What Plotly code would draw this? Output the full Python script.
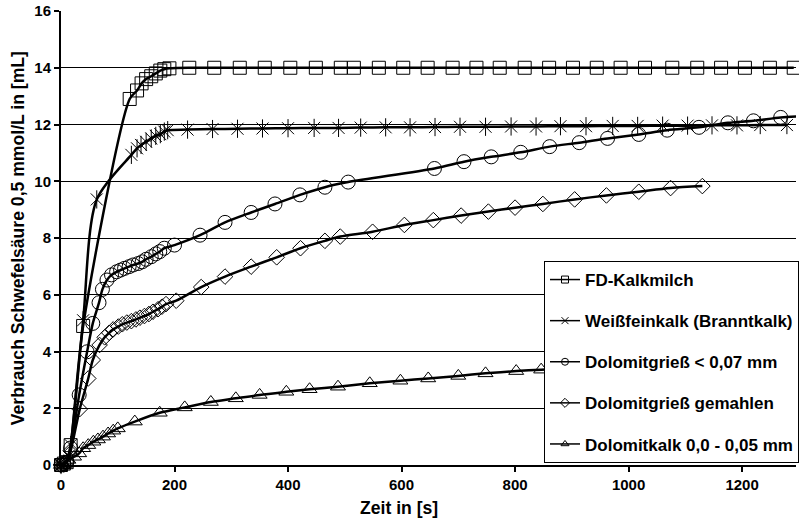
import plotly.graph_objects as go

# ---- data ----
fd_x = [0, 5, 10, 17, 39, 121, 134, 142, 150, 159, 167, 175, 182, 191,
        226, 270, 315, 359, 404, 449, 493, 516, 560, 603, 646, 690, 732,
        773, 817, 860, 902, 944, 986, 1029, 1077, 1121, 1163, 1205, 1249, 1291]
fd_y = [0, 0.05, 0.1, 0.7, 4.9, 12.9, 13.2, 13.45, 13.6, 13.7, 13.8, 13.9, 13.95, 13.98,
        14.0, 14.0, 14.0, 14.0, 14.0, 14.0, 14.0, 14.0, 14.0, 14.0, 14.0, 14.0, 14.0,
        14.0, 14.0, 14.0, 14.0, 14.0, 14.0, 14.0, 14.0, 14.0, 14.0, 14.0, 14.0, 14.0]

wf_x = [0, 5, 10, 17, 39, 63, 124, 134, 141, 150, 159, 167, 175, 182, 188,
        223, 267, 311, 355, 400, 446, 489, 528, 572, 615, 659, 703, 748,
        793, 837, 880, 925, 972, 1016, 1060, 1104, 1147, 1191, 1232, 1279]
wf_y = [0, 0.05, 0.1, 0.7, 5.1, 9.36, 10.93, 11.16, 11.28, 11.39, 11.51, 11.6, 11.66, 11.75, 11.8,
        11.82, 11.84, 11.85, 11.86, 11.87, 11.88, 11.88, 11.89, 11.9, 11.9, 11.91, 11.92, 11.92,
        11.93, 11.93, 11.94, 11.94, 11.95, 11.95, 11.96, 11.96, 11.97, 11.97, 11.98, 11.98]

dg_x = [0, 5, 10, 17, 32, 46, 56, 67, 73, 81, 89, 98, 105, 112, 120, 127, 136, 143, 150, 159,
        167, 174, 182, 200, 245, 289, 335, 377, 421, 465, 506, 658, 710, 758, 810, 861, 913,
        963, 1018, 1068, 1124, 1175, 1220, 1268, 1310]
dg_y = [0, 0.05, 0.1, 0.6, 2.47, 3.99, 4.99, 5.72, 6.19, 6.52, 6.7, 6.81, 6.87, 6.93, 6.99,
        7.05, 7.1, 7.16, 7.25, 7.34, 7.44, 7.52, 7.64, 7.75, 8.1, 8.55, 8.9, 9.2, 9.52, 9.79,
        9.97, 10.45, 10.69, 10.86, 11.02, 11.22, 11.36, 11.51, 11.65, 11.8, 11.9, 12.06, 12.13,
        12.25, 12.3]

gm_x = [0, 5, 10, 17, 33, 48, 56, 68, 77, 85, 92, 101, 108, 116, 124, 132, 139, 147, 155, 162,
        171, 178, 185, 203, 247, 289, 335, 380, 422, 465, 492, 549, 605, 656, 705, 753, 800,
        849, 905, 961, 1018, 1074, 1130]
gm_y = [0, 0.05, 0.1, 0.5, 1.97, 3.05, 3.7, 4.23, 4.5, 4.66, 4.78, 4.88, 4.96, 5.02, 5.07,
        5.13, 5.19, 5.25, 5.32, 5.4, 5.49, 5.58, 5.67, 5.79, 6.27, 6.64, 6.99, 7.32, 7.64, 7.9,
        8.05, 8.22, 8.46, 8.63, 8.79, 8.93, 9.07, 9.2, 9.36, 9.5, 9.63, 9.76, 9.83]

dk_x = [0, 4, 13, 23, 32, 39, 48, 57, 65, 74, 83, 92, 100, 130, 174, 218, 264, 308, 350, 397,
        438, 488, 544, 598, 647, 700, 748, 802, 846, 900]
dk_y = [0, 0.04, 0.18, 0.29, 0.41, 0.59, 0.7, 0.82, 0.9, 1.0, 1.11, 1.21, 1.29, 1.53, 1.84,
        2.03, 2.22, 2.35, 2.47, 2.58, 2.67, 2.76, 2.88, 2.97, 3.05, 3.14, 3.23, 3.31, 3.36, 3.42]

names = ["FD-Kalkmilch", "Weißfeinkalk (Branntkalk)", "Dolomitgrieß < 0,07 mm",
         "Dolomitgrieß gemahlen", "Dolomitkalk 0,0 - 0,05 mm"]
symbols = ["square-open", "x-thin-open", "circle-open", "diamond-open", "triangle-up-open"]
sizes = [13, 12, 14, 12, 13]
x_ticks = [0, 200, 400, 600, 800, 1000, 1200]
y_ticks = [0, 2, 4, 6, 8, 10, 12, 14, 16]

FONT = "Liberation Sans"
LW = 2.5

fig = go.Figure()

series = [(fd_x, fd_y), (wf_x, wf_y), (dg_x, dg_y), (gm_x, gm_y), (dk_x, dk_y)]
for i, (x, y) in enumerate(series):
    grp = f"g{i}"
    fig.add_trace(go.Scatter(
        x=x, y=y, name=names[i], mode="lines+markers", legendgroup=grp, showlegend=False,
        line=dict(color="black", width=LW, shape="spline", smoothing=0.8),
        marker=dict(symbol=symbols[i], size=sizes[i], color="black",
                    line=dict(color="black", width=1)),
        cliponaxis=False))
    if i == 1:
        fig.add_trace(go.Scatter(
            x=x, y=y, mode="markers", showlegend=False, legendgroup=grp,
            marker=dict(symbol="line-ns-open", size=13, color="black",
                        line=dict(color="black", width=1)), cliponaxis=False))

# legend-only entries with small symbols, as in the reference legend
for i in range(5):
    fig.add_trace(go.Scatter(
        x=[None], y=[None], name=names[i], mode="lines+markers", legendgroup=f"g{i}",
        line=dict(color="black", width=1.5),
        marker=dict(symbol=symbols[i], size=7, color="black",
                    line=dict(color="black", width=1))))

L, T, B = 61, 11, 61
W, H = 799, 526
pw = W - L
ph = H - T - B

fig.update_layout(
    width=W, height=H,
    margin=dict(l=L, r=0, t=T, b=B, pad=0),
    paper_bgcolor="white", plot_bgcolor="white",
    font=dict(family=FONT, color="black"),
    showlegend=True,
    legend=dict(
        x=(546 - L) / pw, y=(H - B - 261) / ph, xanchor="left", yanchor="top",
        bgcolor="white", bordercolor="black", borderwidth=1,
        font=dict(family=FONT, size=17, color="black", weight="bold"),
        traceorder="grouped", tracegroupgap=16, itemwidth=30,
    ),
    xaxis=dict(
        range=[0, 1295], tickvals=x_ticks, ticktext=[str(v) for v in x_ticks],
        showgrid=False, zeroline=False, showline=True, linecolor="black", linewidth=2,
        ticks="outside", ticklen=5, tickwidth=1.5, tickcolor="black",
        tickfont=dict(family=FONT, size=15, color="black", weight="bold"),
    ),
    yaxis=dict(
        range=[0, 16], tickvals=y_ticks, ticktext=[str(v) for v in y_ticks],
        showgrid=True, gridcolor="black", gridwidth=1.3, zeroline=False,
        showline=True, linecolor="black", linewidth=2,
        ticks="outside", ticklen=5, tickwidth=1.5, tickcolor="black",
        tickfont=dict(family=FONT, size=15, color="black", weight="bold"),
    ),
    annotations=[
        dict(text="Verbrauch Schwefelsäure 0,5 mmol/L in [mL]", xref="paper", yref="paper",
             x=(18 - L) / pw, y=0.5, xanchor="center", yanchor="middle", textangle=-90,
             showarrow=False, font=dict(family=FONT, size=17.6, color="black", weight="bold")),
        dict(text="Zeit in [s]", xref="paper", yref="paper",
             x=(400 - L) / pw, y=-(508 - (H - B)) / ph, xanchor="center", yanchor="middle",
             showarrow=False, font=dict(family=FONT, size=17.6, color="black", weight="bold")),
    ],
)

fig.write_html("out.html")
